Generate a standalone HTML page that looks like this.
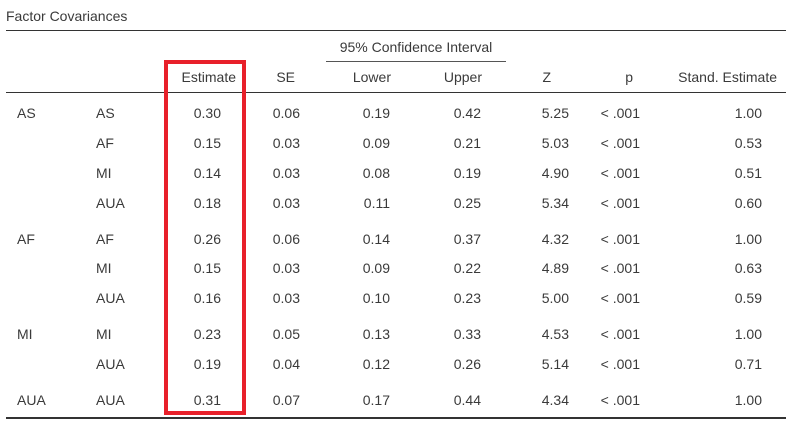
<!DOCTYPE html>
<html><head><meta charset="utf-8"><style>
body{margin:0;width:792px;height:425px;background:#fff;position:relative;font-family:"Liberation Sans",sans-serif;font-size:14px;color:#3a3a3a;overflow:hidden}
.t{position:absolute;white-space:nowrap;line-height:16px}
.r{text-align:right}
.c{text-align:center}
.hl{position:absolute;background:#333}
</style></head><body>
<div class="t" style="left:6px;top:8px">Factor Covariances</div>
<div class="hl" style="left:6px;top:30px;width:780px;height:1px"></div>
<div class="t c" style="left:316px;top:39px;width:200px">95% Confidence Interval</div>
<div class="hl" style="left:326px;top:61px;width:180px;height:1px;background:#555"></div>
<div class="hl" style="left:6px;top:92px;width:780px;height:1px"></div>
<div class="hl" style="left:6px;top:417px;width:780px;height:2px"></div>
<div style="position:absolute;left:164px;top:60px;width:74px;height:347px;border:4px solid #e8202a"></div>
<div id="tbl"></div>
<script>
const headers=["Estimate","SE","Lower","Upper","Z","p","Stand. Estimate"];
const lhs=["AS","","","","AF","","","MI","","AUA"];
const rhs=["AS","AF","MI","AUA","AF","MI","AUA","MI","AUA","AUA"];
const est=["0.30","0.15","0.14","0.18","0.26","0.15","0.16","0.23","0.19","0.31"];
const se=["0.06","0.03","0.03","0.03","0.06","0.03","0.03","0.05","0.04","0.07"];
const lower=["0.19","0.09","0.08","0.11","0.14","0.09","0.10","0.13","0.12","0.17"];
const upper=["0.42","0.21","0.19","0.25","0.37","0.22","0.23","0.33","0.26","0.44"];
const zv=["5.25","5.03","4.90","5.34","4.32","4.89","5.00","4.53","5.14","4.34"];
const pv=Array(10).fill("< .001");
const std=["1.00","0.53","0.51","0.60","1.00","0.63","0.59","1.00","0.71","1.00"];
const rowY=[113,143,173,203,239,268,298,334,364,400];
const cols=[est,se,lower,upper,zv,pv,std];
const colRight=[221,300,390,481,569,640,762];
const headRight=[236,295,391,482,551,633,777];
const root=document.getElementById('tbl');
function add(txt,x,y,cls,name){const d=document.createElement('div');d.className='t '+cls;d.textContent=txt;
if(cls==='r'){d.style.right=(792-x)+'px';}else d.style.left=x+'px';d.style.top=(y-8)+'px';


root.appendChild(d);}
headers.forEach((h,i)=>add(h,headRight[i],77,'r','header-'+h.toLowerCase().replace(/[^a-z]+/g,'-')));
rowY.forEach((y,r)=>{
 if(lhs[r])add(lhs[r],17,y,'','row-lhs-label');
 add(rhs[r],96,y,'','row-rhs-label');
 cols.forEach((c,i)=>add(c[r],colRight[i],y,'r','cell-'+headers[i].toLowerCase().replace(/[^a-z]+/g,'-')));
});
</script>
</body></html>
